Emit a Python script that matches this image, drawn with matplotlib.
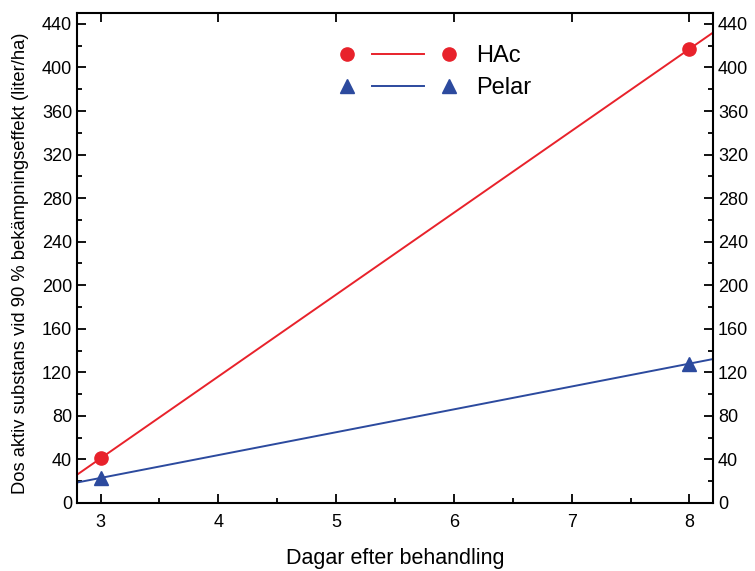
import numpy as np
import matplotlib.pyplot as plt
from matplotlib.lines import Line2D
from matplotlib.legend_handler import HandlerBase
from matplotlib.ticker import MultipleLocator

plt.rcParams['font.family'] = ['Liberation Sans', 'DejaVu Sans']

# data
days = [3, 8]
hac = [41, 417]
pelar = [23, 128]

RED = '#e8222b'
BLUE = '#2c4a9e'


class GapHandler(HandlerBase):
    # Origin style legend: marker, short line, marker
    def create_artists(self, legend, orig_handle, xdescent, ydescent,
                       width, height, fontsize, trans):
        y = height / 2 - ydescent
        line = Line2D([width * 0.24, width * 0.76], [y, y],
                      color=orig_handle.get_color(), lw=orig_handle.get_linewidth())
        marks = Line2D([0, width], [y, y], ls='none',
                       marker=orig_handle.get_marker(),
                       markersize=orig_handle.get_markersize(),
                       color=orig_handle.get_color())
        line.set_transform(trans)
        marks.set_transform(trans)
        return [line, marks]


fig = plt.figure(figsize=(7.55, 5.71), dpi=100)
ax = fig.add_axes([0.102, 0.1191, 0.8424, 0.8581])
ax.set_xlim(2.8, 8.2)
ax.set_ylim(0, 450)

xs = np.array(ax.get_xlim())
series = [(hac, RED, 'o', 9.5, 'HAc'), (pelar, BLUE, '^', 9.5, 'Pelar')]
handles = []
for vals, col, mk, ms, lab in series:
    k, m = np.polyfit(days, vals, 1)
    ax.plot(xs, k * xs + m, color=col, lw=1.4, zorder=2)
    ax.plot(days, vals, ls='none', marker=mk, ms=ms, color=col, zorder=3, clip_on=False)
    handles.append(Line2D([], [], color=col, lw=1.4, marker=mk, markersize=ms, label=lab))

ax.legend(handles=handles, handler_map={h: GapHandler() for h in handles},
          loc='upper left', bbox_to_anchor=(0.41, 0.953), borderaxespad=0,
          frameon=False, fontsize=17, handlelength=4.3, handletextpad=1.15,
          labelspacing=0.42)

ax.xaxis.set_major_locator(MultipleLocator(1))
ax.xaxis.set_minor_locator(MultipleLocator(0.5))
ax.yaxis.set_major_locator(MultipleLocator(40))
ax.yaxis.set_minor_locator(MultipleLocator(20))
ax.tick_params(which='both', direction='in', top=True, right=True,
               labelright=True, labelsize=13, width=1.3)
ax.tick_params(which='major', length=6.5)
ax.tick_params(which='minor', length=3.5)
ax.tick_params(axis='x', which='minor', top=False)
ax.tick_params(axis='x', pad=8)
for sp in ax.spines.values():
    sp.set_linewidth(1.5)

ax.set_xlabel('Dagar efter behandling', fontsize=15.5, labelpad=12)
ax.set_ylabel('Dos aktiv substans vid 90 % bekämpningseffekt (liter/ha)', fontsize=13.2, labelpad=8)
ax.yaxis.set_label_coords(-0.075, 0.49)

fig.savefig('out.png', dpi=100)
